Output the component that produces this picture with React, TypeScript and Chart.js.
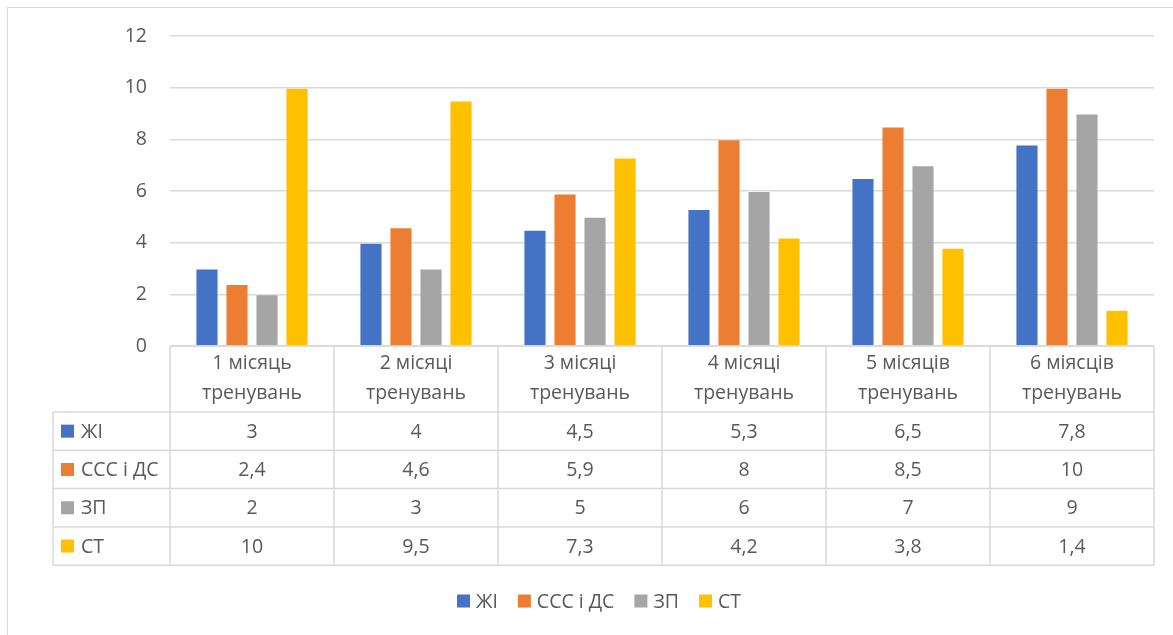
import React, { useEffect, useRef } from "react";
import { Chart, registerables } from "chart.js";

Chart.register(...registerables);

const categories: string[][] = [
  ["1 місяць", "тренувань"],
  ["2 місяці", "тренувань"],
  ["3 місяці", "тренувань"],
  ["4 місяці", "тренувань"],
  ["5 місяців", "тренувань"],
  ["6 міясців", "тренувань"],
];
const seriesNames = ["ЖІ", "ССС і ДС", "ЗП", "СТ"];
const zhiValues = [3, 4, 4.5, 5.3, 6.5, 7.8];
const sssValues = [2.4, 4.6, 5.9, 8, 8.5, 10];
const zpValues = [2, 3, 5, 6, 7, 9];
const stValues = [10, 9.5, 7.3, 4.2, 3.8, 1.4];
const seriesColors = ["#4472C4", "#ED7D31", "#A5A5A5", "#FFC000"];
const yTicks = [0, 2, 4, 6, 8, 10, 12];

const FONT_FAMILY = "'Open Sans', 'Noto Sans', sans-serif";
const FONT_SIZE = 19.5;
const TEXT_COLOR = "#595959";
const LINE_COLOR = "#D9D9D9";

const fmt = (v: number) => String(v).replace(".", ",");

const tablePlugin = {
  id: "dataTable",
  afterDraw(chart: any) {
    const ctx: CanvasRenderingContext2D = chart.ctx;
    const xs = chart.scales.x;
    const area = chart.chartArea;
    const n = chart.data.labels.length;
    const catW = (area.right - area.left) / n;
    const top = area.bottom;
    const headerH = 66;
    const rowH = 38.3;
    const leftX = 53;
    const dsets = chart.data.datasets;
    const bottom = top + headerH + rowH * dsets.length;

    ctx.save();
    ctx.strokeStyle = LINE_COLOR;
    ctx.lineWidth = 1.5;
    ctx.beginPath();
    ctx.moveTo(area.left, top);
    ctx.lineTo(area.right, top);
    for (let r = 0; r <= dsets.length; r++) {
      const y = top + headerH + r * rowH;
      ctx.moveTo(leftX, y);
      ctx.lineTo(area.right, y);
    }
    for (let i = 0; i <= n; i++) {
      const x = area.left + i * catW;
      ctx.moveTo(x, top);
      ctx.lineTo(x, bottom);
    }
    ctx.moveTo(leftX, top + headerH);
    ctx.lineTo(leftX, bottom);
    ctx.stroke();

    ctx.fillStyle = TEXT_COLOR;
    ctx.font = `${FONT_SIZE}px ${FONT_FAMILY}`;
    ctx.textAlign = "center";
    ctx.textBaseline = "middle";
    chart.data.labels.forEach((lab: string[], i: number) => {
      const cx = xs.getPixelForValue(i);
      lab.forEach((line, k) => {
        ctx.fillText(line, cx, top + 17 + k * 30);
      });
    });

    dsets.forEach((ds: any, r: number) => {
      const cy = top + headerH + r * rowH + rowH / 2;
      ctx.fillStyle = ds.backgroundColor;
      ctx.fillRect(leftX + 8, cy - 6.5, 13, 13);
      ctx.fillStyle = TEXT_COLOR;
      ctx.textAlign = "left";
      ctx.fillText(ds.label, leftX + 28, cy + 1);
      ctx.textAlign = "center";
      ds.data.forEach((v: number, i: number) => {
        ctx.fillText(fmt(v), xs.getPixelForValue(i), cy + 1);
      });
    });

    // legend
    const ly = 601;
    const box = 13;
    const gapText = 6;
    const gapItem = 20;
    const widths = dsets.map((ds: any) => box + gapText + ctx.measureText(ds.label).width);
    const total = widths.reduce((a: number, b: number) => a + b, 0) + gapItem * (dsets.length - 1);
    let x = 599 - total / 2;
    ctx.textAlign = "left";
    dsets.forEach((ds: any, i: number) => {
      ctx.fillStyle = ds.backgroundColor;
      ctx.fillRect(x, ly - box / 2, box, box);
      ctx.fillStyle = TEXT_COLOR;
      ctx.fillText(ds.label, x + box + gapText, ly + 1);
      x += widths[i] + gapItem;
    });
    ctx.restore();
  },
};

export default function App() {
  const ref = useRef<HTMLCanvasElement | null>(null);
  useEffect(() => {
    if (!ref.current) return;
    const values = [zhiValues, sssValues, zpValues, stValues];
    const chart = new Chart(ref.current, {
      type: "bar",
      data: {
        labels: categories,
        datasets: seriesNames.map((name, i) => ({
          label: name,
          data: values[i],
          backgroundColor: seriesColors[i],
          borderColor: "rgba(255,255,255,0.35)",
          borderWidth: 1,
          categoryPercentage: 0.732,
          barPercentage: 0.77,
        })),
      },
      options: {
        animation: false,
        responsive: false,
        maintainAspectRatio: false,
        layout: { padding: { top: 36, bottom: 289, left: 0, right: 19 } },
        plugins: {
          legend: { display: false },
          tooltip: { enabled: false },
        },
        scales: {
          x: {
            display: false,
          },
          y: {
            min: 0,
            max: 12,
            afterFit: (s: any) => {
              s.width = 170;
            },
            afterBuildTicks: (s: any) => {
              s.ticks = yTicks.map((v) => ({ value: v }));
            },
            border: { display: false },
            grid: { color: LINE_COLOR, lineWidth: 1.5, drawTicks: false },
            ticks: {
              padding: 23,
              color: TEXT_COLOR,
              font: { family: FONT_FAMILY, size: FONT_SIZE },
            },
          },
        },
      },
      plugins: [tablePlugin],
    });
    return () => chart.destroy();
  }, []);

  return (
    <div style={{ position: "fixed", left: 0, top: 0, width: 1173, height: 635, background: "#fff", overflow: "hidden" }}>
      <div
        style={{
          position: "absolute",
          left: 7,
          top: 7,
          width: 1200,
          height: 700,
          border: "1.5px solid #D9D9D9",
          boxSizing: "border-box",
        }}
      />
      <canvas ref={ref} width={1173} height={635} style={{ position: "absolute", left: 0, top: 0, width: 1173, height: 635 }} />
    </div>
  );
}
